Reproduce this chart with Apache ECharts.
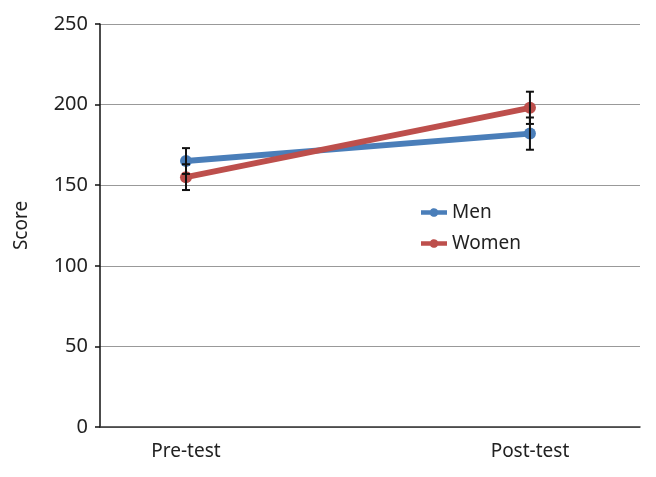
<!DOCTYPE html>
<html><head><meta charset="utf-8">
<script src="https://cdn.jsdelivr.net/npm/echarts@6/dist/echarts.min.js"></script>
<style>html,body{margin:0;padding:0;background:#fff}#c{width:656px;height:477px}</style>
</head><body><div id="c"></div>
<script>
var categories = ['Pre-test', 'Post-test'];
var catPos = [1, 2];
var menMean = [165, 182];
var menErr = [8, 10];
var womenMean = [155, 198];
var womenErr = [8, 10];
var yTicks = [0, 50, 100, 150, 200, 250];

var font = '"Noto Sans", "Open Sans", sans-serif';
function pts(m){ return m.map(function(v,i){ return [catPos[i], v]; }); }
function errData(m,e){ return m.map(function(v,i){ return [catPos[i], v - e[i], v + e[i]]; }); }
function errSeries(m,e){
  return {
    type: 'custom', z: 5, silent: true,
    data: errData(m,e),
    renderItem: function(params, api){
      var x = api.value(0);
      var lo = api.coord([x, api.value(1)]);
      var hi = api.coord([x, api.value(2)]);
      var w = 4;
      var st = {stroke: '#111', lineWidth: 2};
      return {type: 'group', children: [
        {type: 'line', shape: {x1: lo[0], y1: lo[1], x2: hi[0], y2: hi[1]}, style: st},
        {type: 'line', shape: {x1: lo[0]-w, y1: lo[1], x2: lo[0]+w, y2: lo[1]}, style: st},
        {type: 'line', shape: {x1: hi[0]-w, y1: hi[1], x2: hi[0]+w, y2: hi[1]}, style: st}
      ]};
    }
  };
}
var legendIcon = 'path://M0,2.5 L10.67,2.5 A5,5 0 0 1 19.33,2.5 L30,2.5 L30,7.5 L19.33,7.5 A5,5 0 0 1 10.67,7.5 L0,7.5 Z';
var chart = echarts.init(document.getElementById('c'));
chart.setOption({
  animation: false,
  grid: {left: 100, right: 16, top: 24, bottom: 50},
  legend: {
    orient: 'vertical', left: 416, top: 198, itemGap: 12,
    itemWidth: 26, itemHeight: 9,
    textStyle: {fontFamily: font, fontSize: 19, color: '#222'},
    data: [{name: 'Men', icon: legendIcon}, {name: 'Women', icon: legendIcon}]
  },
  xAxis: {
    type: 'value', min: 0.75, max: 2.32, interval: 0.25,
    axisLine: {show: true, lineStyle: {color: '#333', width: 1.5}},
    axisTick: {show: false},
    splitLine: {show: false},
    axisLabel: {
      showMinLabel: false, showMaxLabel: false,
      fontFamily: font, fontSize: 19, color: '#222', margin: 15,
      formatter: function(v){ var i = catPos.indexOf(v); return i >= 0 ? categories[i] : ''; }
    }
  },
  yAxis: {
    type: 'value', min: yTicks[0], max: yTicks[yTicks.length-1], interval: 50,
    name: 'Score', nameLocation: 'middle', nameGap: 69,
    nameTextStyle: {fontFamily: font, fontSize: 19, color: '#222'},
    axisLine: {show: true, lineStyle: {color: '#111', width: 1.5}},
    axisTick: {show: true, length: 5, lineStyle: {color: '#111', width: 1.5}},
    splitLine: {show: true, lineStyle: {color: '#999', width: 1.2}},
    axisLabel: {fontFamily: font, fontSize: 20, color: '#222', margin: 12}
  },
  series: [
    {name: 'Men', type: 'line', data: pts(menMean), symbol: 'circle', symbolSize: 12,
     itemStyle: {color: '#4a7eb9'}, lineStyle: {width: 6, color: '#4a7eb9'}, z: 3},
    {name: 'Women', type: 'line', data: pts(womenMean), symbol: 'circle', symbolSize: 12,
     itemStyle: {color: '#bd4f4c'}, lineStyle: {width: 6, color: '#bd4f4c'}, z: 4},
    errSeries(menMean, menErr),
    errSeries(womenMean, womenErr)
  ]
});
</script></body></html>
